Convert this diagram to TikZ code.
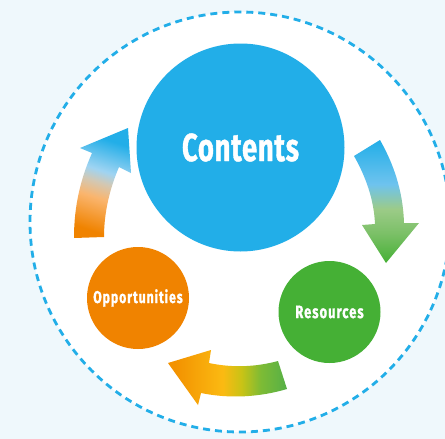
\documentclass[tikz,border=0pt]{standalone}
\usepackage{fontspec}
\setmainfont{Fira Sans}
\newfontfamily\bigfont[FakeStretch=0.7,FakeBold=1,LetterSpace=2]{Fira Sans Bold}
\newfontfamily\smallfont[FakeStretch=0.72,FakeBold=1,LetterSpace=5.5]{Fira Sans Bold}
\definecolor{bgpale}{HTML}{EFF8FC}
\definecolor{skyblue}{HTML}{22AEE8}
\definecolor{orangedisc}{HTML}{F08300}
\definecolor{greendisc}{HTML}{45B035}
\definecolor{aone}{HTML}{6EC3EE}
\definecolor{atwo}{HTML}{9CCB88}
\definecolor{athree}{HTML}{7BC067}
\definecolor{bone}{HTML}{9FD4F2}
\definecolor{btwo}{HTML}{D2C8B4}
\definecolor{bthree}{HTML}{FAB56E}
\definecolor{cone}{HTML}{FBBA12}
\definecolor{ctwo}{HTML}{C8C316}
\definecolor{cthree}{HTML}{7DBB35}
\definecolor{cfour}{HTML}{55B047}
\definecolor{cstart}{HTML}{F39200}
\pgfdeclareverticalshading{shadeA}{100bp}{
 color(0bp)=(greendisc); color(25bp)=(greendisc); color(37bp)=(athree); color(47bp)=(atwo); color(57bp)=(aone); color(75bp)=(skyblue); color(100bp)=(skyblue)}
\pgfdeclareverticalshading{shadeB}{100bp}{
 color(0bp)=(orangedisc); color(25bp)=(orangedisc); color(42bp)=(bthree); color(50bp)=(btwo); color(56bp)=(bone); color(72bp)=(skyblue); color(100bp)=(skyblue)}
\pgfdeclarehorizontalshading{shadeC}{100bp}{
 color(0bp)=(cstart); color(28bp)=(cstart); color(48bp)=(cone); color(56bp)=(ctwo); color(64bp)=(cthree); color(75bp)=(cfour); color(100bp)=(cfour)}
\tikzset{
 disc/.style={circle,inner sep=0pt,text=white},
 bigword/.style={font=\bigfont\fontsize{39}{39}\selectfont},
 smallword/.style={font=\smallfont\fontsize{18}{18}\selectfont},
 longword/.style={font=\smallfont\fontsize{17}{17}\selectfont}
}
\begin{document}
\begin{tikzpicture}[x=1pt,y=-1pt]
\useasboundingbox (0,0) rectangle (445,439);
\fill[bgpale] (0,0) rectangle (445,439);
\begin{scope}
\clip (0,0) rectangle (445,439);
\fill[white] (240,222) circle[radius=210];
\draw[skyblue,line width=2.8pt,dash pattern=on 7pt off 5pt] (240,222) circle[radius=210];
\end{scope}
% arrows
\path[shading=shadeA,shading angle=0]
 (380,140) .. controls (393,163) and (403,190) .. (404,223)
 -- (419,223) -- (386,263) -- (362,225) -- (375,224)
 .. controls (374,200) and (366,177) .. (354,156) -- cycle;
\path[shading=shadeB,shading angle=-18]
 (74,238) .. controls (74,205) and (81,178) .. (92,153)
 -- (80,148) -- (128,128) -- (131,173) -- (119,167)
 .. controls (110,188) and (104,212) .. (104,237) -- cycle;
\path[shading=shadeC,shading angle=0]
 (278,361) .. controls (256,367) and (232,368) .. (209,363)
 -- (211,350) -- (168,363) -- (198,405) -- (201,393)
 .. controls (230,399) and (260,397) .. (287,389) -- cycle;
% discs
\node[disc,fill=skyblue,minimum size=208pt,bigword] (contents) at (240.5,147.5) {Contents};
\node[disc,fill=orangedisc,minimum size=102pt,longword] (opportunities) at (138,298) {Opportunities};
\node[disc,fill=greendisc,minimum size=102pt,smallword] (resources) at (329.5,312) {Resources};
\end{tikzpicture}
\end{document}
